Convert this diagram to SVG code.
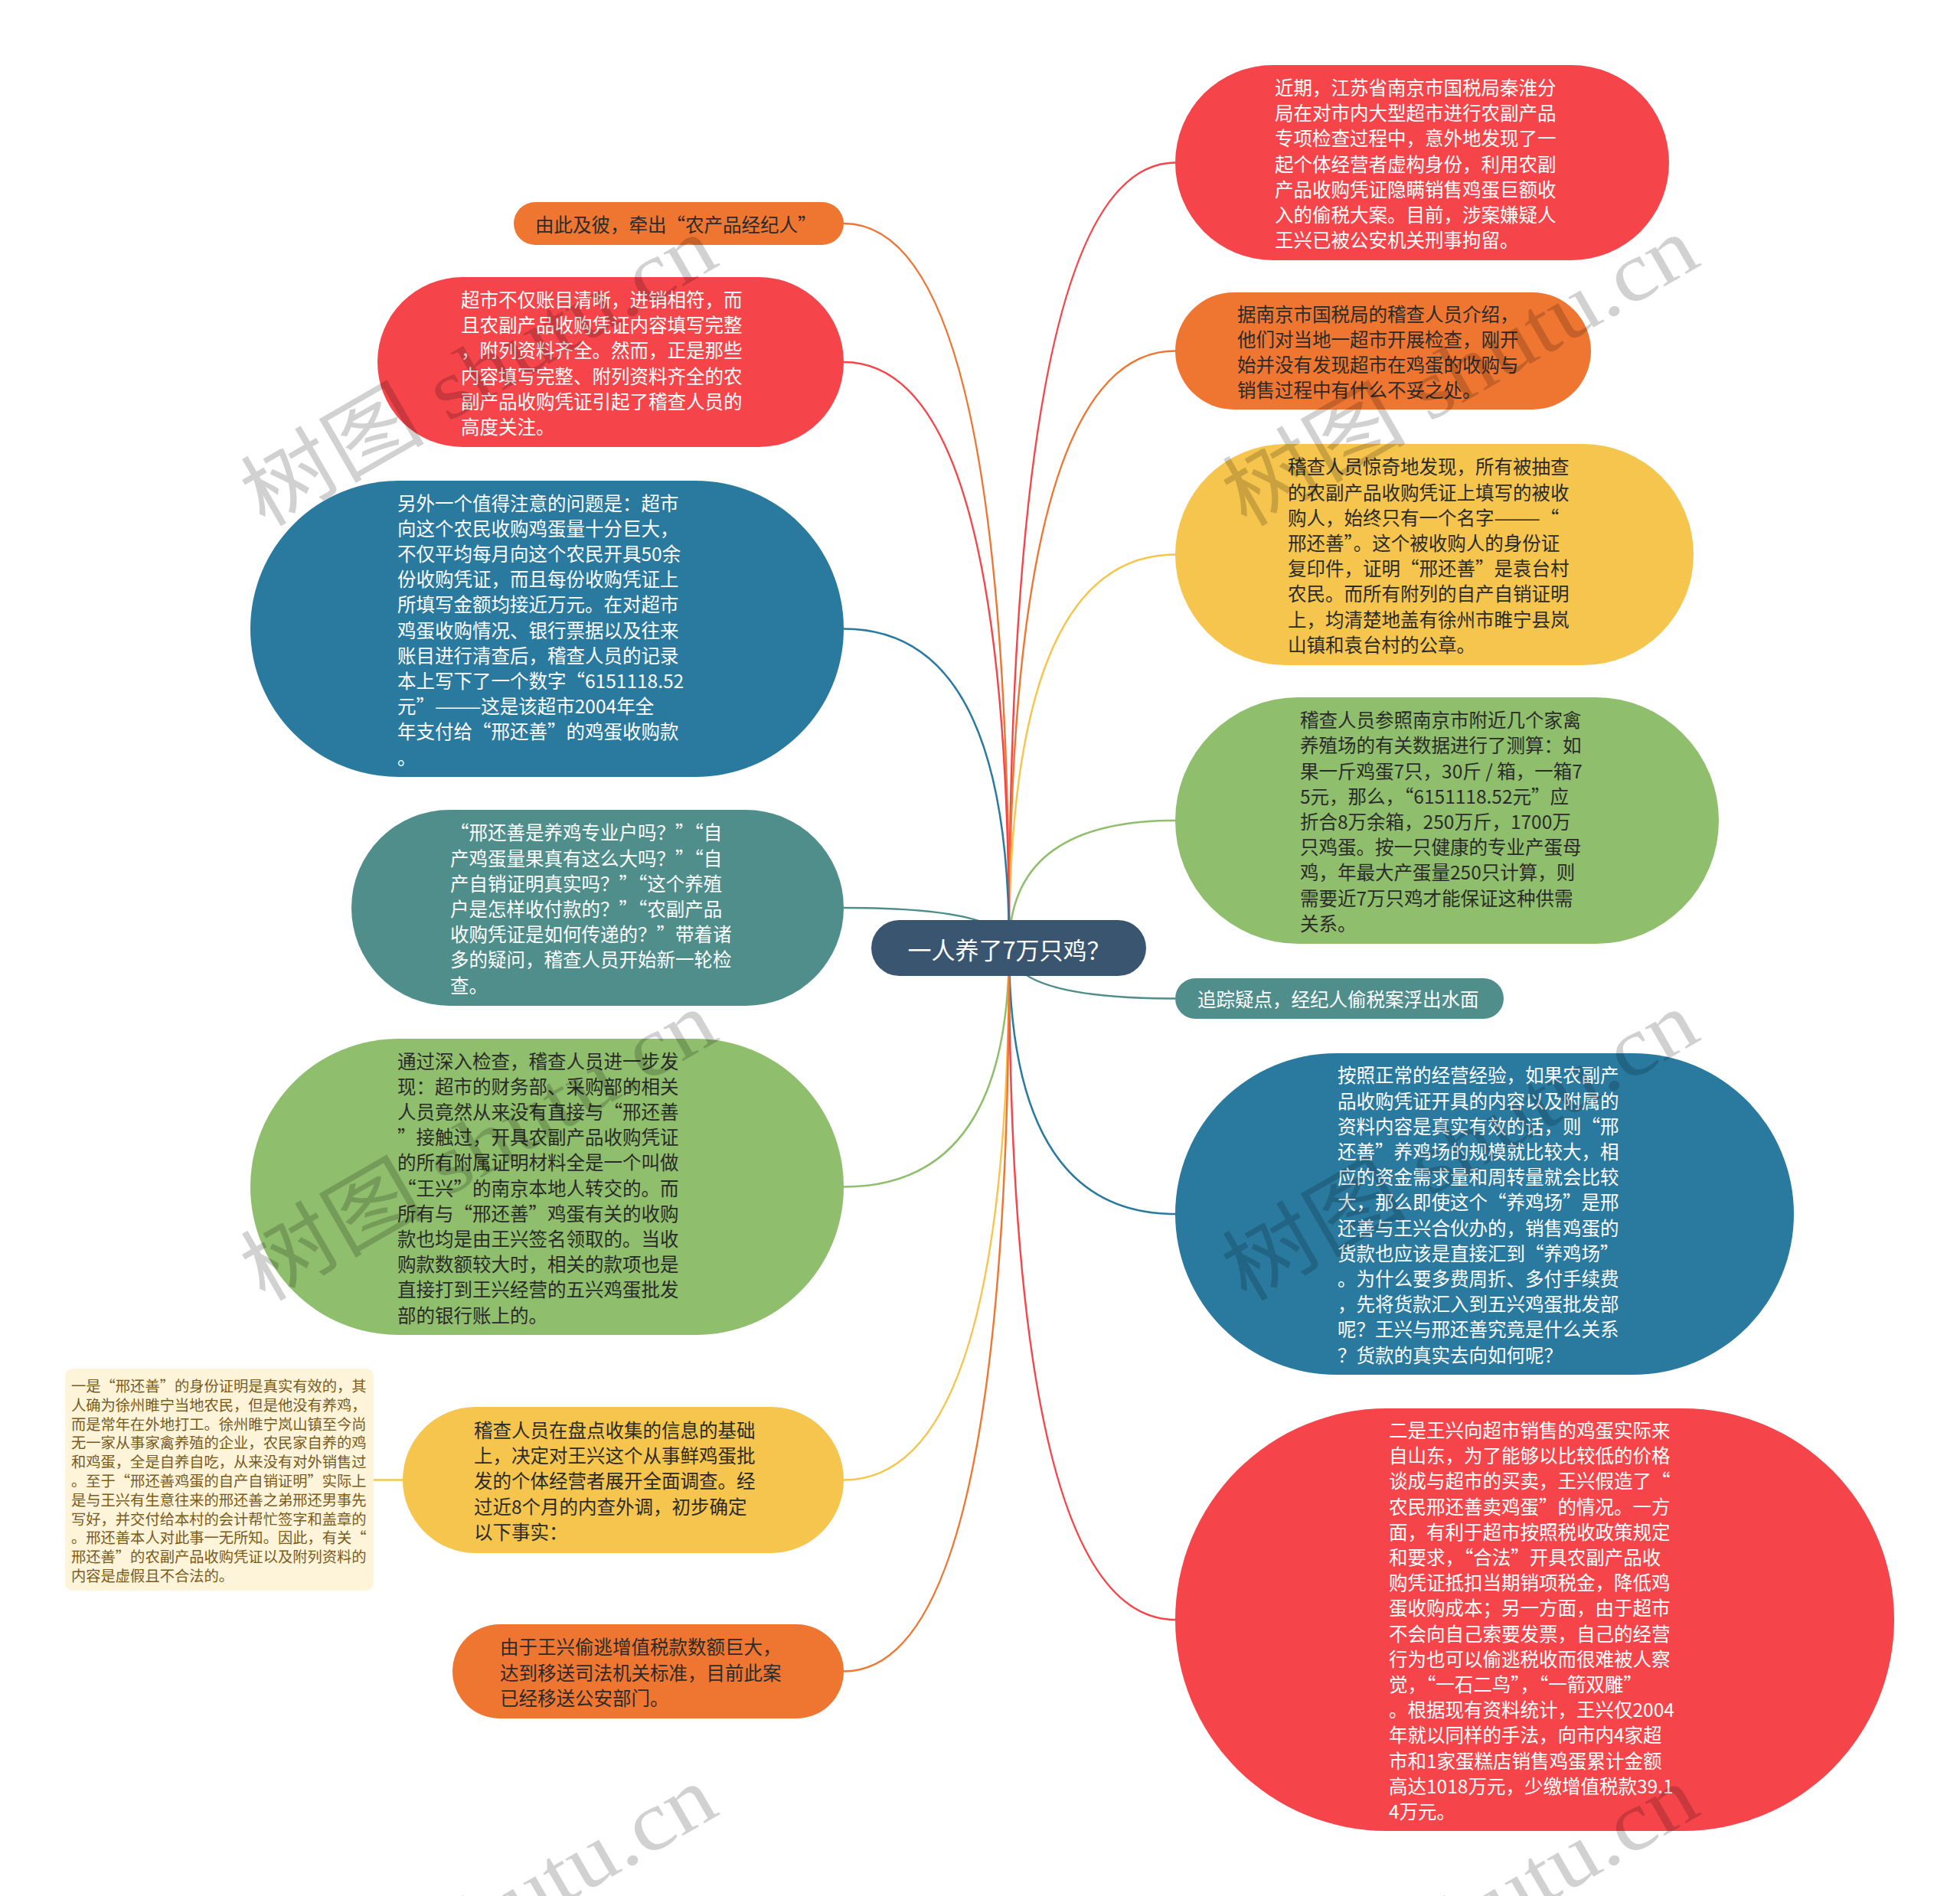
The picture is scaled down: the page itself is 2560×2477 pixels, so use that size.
<svg xmlns="http://www.w3.org/2000/svg" width="2560" height="2477" viewBox="0 0 2560 2477">
<style>
.t{font-family:"Noto Sans CJK SC","Noto Sans",sans-serif;font-size:24.5px;dominant-baseline:central}
.w{fill:#ffffff}
.d{fill:#2b2b2b}
.n{font-family:"Noto Sans CJK SC","Noto Sans",sans-serif;font-size:19.3px;dominant-baseline:central;fill:#7a5b1c}
.c{fill:none;stroke-width:2.5}
.wm{font-family:"Liberation Serif","Noto Sans CJK SC",serif;font-size:110px;fill:#000;fill-opacity:0.18}
</style>
<rect x="0" y="0" width="2560" height="2477" fill="#ffffff"/>
<g id="connectors">
<path class="c" stroke="#f5454b" d="M1318,1238 Q1318,212.5 1535,212.5"/>
<path class="c" stroke="#ef7631" d="M1318,1238 Q1318,458.5 1535,458.5"/>
<path class="c" stroke="#f6c54e" d="M1318,1238 Q1318,724.5 1535,724.5"/>
<path class="c" stroke="#8fbe6c" d="M1318,1238 Q1318,1072 1535,1072"/>
<path class="c" stroke="#4f8e8b" d="M1318,1238 Q1318,1304.5 1535,1304.5"/>
<path class="c" stroke="#2a7aa0" d="M1318,1238 Q1318,1586 1535,1586"/>
<path class="c" stroke="#f5454b" d="M1318,1238 Q1318,2116 1535,2116"/>
<path class="c" stroke="#ef7631" d="M1318,1238 Q1318,292 1102,292"/>
<path class="c" stroke="#f5454b" d="M1318,1238 Q1318,473 1102,473"/>
<path class="c" stroke="#2a7aa0" d="M1318,1238 Q1318,821.5 1102,821.5"/>
<path class="c" stroke="#4f8e8b" d="M1318,1238 Q1318,1186 1102,1186"/>
<path class="c" stroke="#8fbe6c" d="M1318,1238 Q1318,1550.5 1102,1550.5"/>
<path class="c" stroke="#f6c54e" d="M1318,1238 Q1318,1933.5 1102,1933.5"/>
<path class="c" stroke="#ef7631" d="M1318,1238 Q1318,2183.5 1102,2183.5"/>
<path class="c" stroke="#f6c54e" d="M526,1933.5 L488,1933.5"/>
</g>
<g id="root">
<rect x="1138" y="1202" width="359" height="73" rx="36.5" fill="#3a5570"/>
<text class="t w" x="1318" y="1239" text-anchor="middle" style="font-size:31px">一人养了7万只鸡？</text>
</g>
<g id="r1">
<rect x="1535" y="85" width="645" height="255" rx="127.5" fill="#f5454b"/>
<text class="t w"><tspan x="1665" y="112.9">近期，江苏省南京市国税局秦淮分</tspan><tspan x="1665" y="146.1">局在对市内大型超市进行农副产品</tspan><tspan x="1665" y="179.3">专项检查过程中，意外地发现了一</tspan><tspan x="1665" y="212.5">起个体经营者虚构身份，利用农副</tspan><tspan x="1665" y="245.7">产品收购凭证隐瞒销售鸡蛋巨额收</tspan><tspan x="1665" y="278.9">入的偷税大案。目前，涉案嫌疑人</tspan><tspan x="1665" y="312.1">王兴已被公安机关刑事拘留。</tspan></text>
</g>
<g id="r2">
<rect x="1535" y="382" width="543" height="153" rx="76.5" fill="#ef7631"/>
<text class="t d"><tspan x="1616" y="408.7">据南京市国税局的稽查人员介绍，</tspan><tspan x="1616" y="441.9">他们对当地一超市开展检查，刚开</tspan><tspan x="1616" y="475.1">始并没有发现超市在鸡蛋的收购与</tspan><tspan x="1616" y="508.3">销售过程中有什么不妥之处。</tspan></text>
</g>
<g id="r3">
<rect x="1535" y="580" width="677" height="289" rx="144.5" fill="#f6c54e"/>
<text class="t d"><tspan x="1682" y="608.3">稽查人员惊奇地发现，所有被抽查</tspan><tspan x="1682" y="641.5">的农副产品收购凭证上填写的被收</tspan><tspan x="1682" y="674.7">购人，始终只有一个名字———“</tspan><tspan x="1682" y="707.9">邢还善”。这个被收购人的身份证</tspan><tspan x="1682" y="741.1">复印件，证明“邢还善”是袁台村</tspan><tspan x="1682" y="774.3">农民。而所有附列的自产自销证明</tspan><tspan x="1682" y="807.5">上，均清楚地盖有徐州市睢宁县岚</tspan><tspan x="1682" y="840.7">山镇和袁台村的公章。</tspan></text>
</g>
<g id="r4">
<rect x="1535" y="911" width="710" height="322" rx="161" fill="#8fbe6c"/>
<text class="t d"><tspan x="1698" y="939.2">稽查人员参照南京市附近几个家禽</tspan><tspan x="1698" y="972.4">养殖场的有关数据进行了测算：如</tspan><tspan x="1698" y="1005.6">果一斤鸡蛋7只，30斤 / 箱，一箱7</tspan><tspan x="1698" y="1038.8">5元，那么，“6151118.52元”应</tspan><tspan x="1698" y="1072">折合8万余箱，250万斤，1700万</tspan><tspan x="1698" y="1105.2">只鸡蛋。按一只健康的专业产蛋母</tspan><tspan x="1698" y="1138.4">鸡，年最大产蛋量250只计算，则</tspan><tspan x="1698" y="1171.6">需要近7万只鸡才能保证这种供需</tspan><tspan x="1698" y="1204.8">关系。</tspan></text>
</g>
<g id="r5">
<rect x="1535" y="1278" width="429" height="53" rx="26.5" fill="#4f8e8b"/>
<text class="t w" x="1564" y="1304.5">追踪疑点，经纪人偷税案浮出水面</text>
</g>
<g id="r6">
<rect x="1535" y="1376" width="808" height="420" rx="210" fill="#2a7aa0"/>
<text class="t w"><tspan x="1747" y="1403.4">按照正常的经营经验，如果农副产</tspan><tspan x="1747" y="1436.6">品收购凭证开具的内容以及附属的</tspan><tspan x="1747" y="1469.8">资料内容是真实有效的话，则“邢</tspan><tspan x="1747" y="1503">还善”养鸡场的规模就比较大，相</tspan><tspan x="1747" y="1536.2">应的资金需求量和周转量就会比较</tspan><tspan x="1747" y="1569.4">大，那么即使这个“养鸡场”是邢</tspan><tspan x="1747" y="1602.6">还善与王兴合伙办的，销售鸡蛋的</tspan><tspan x="1747" y="1635.8">货款也应该是直接汇到“养鸡场”</tspan><tspan x="1747" y="1669">。为什么要多费周折、多付手续费</tspan><tspan x="1747" y="1702.2">，先将货款汇入到五兴鸡蛋批发部</tspan><tspan x="1747" y="1735.4">呢？王兴与邢还善究竟是什么关系</tspan><tspan x="1747" y="1768.6">？货款的真实去向如何呢？</tspan></text>
</g>
<g id="r7">
<rect x="1535" y="1840" width="939" height="552" rx="276" fill="#f5454b"/>
<text class="t w"><tspan x="1814" y="1867">二是王兴向超市销售的鸡蛋实际来</tspan><tspan x="1814" y="1900.2">自山东，为了能够以比较低的价格</tspan><tspan x="1814" y="1933.4">谈成与超市的买卖，王兴假造了“</tspan><tspan x="1814" y="1966.6">农民邢还善卖鸡蛋”的情况。一方</tspan><tspan x="1814" y="1999.8">面，有利于超市按照税收政策规定</tspan><tspan x="1814" y="2033">和要求，“合法”开具农副产品收</tspan><tspan x="1814" y="2066.2">购凭证抵扣当期销项税金，降低鸡</tspan><tspan x="1814" y="2099.4">蛋收购成本；另一方面，由于超市</tspan><tspan x="1814" y="2132.6">不会向自己索要发票，自己的经营</tspan><tspan x="1814" y="2165.8">行为也可以偷逃税收而很难被人察</tspan><tspan x="1814" y="2199">觉，“一石二鸟”，“一箭双雕”</tspan><tspan x="1814" y="2232.2">。根据现有资料统计，王兴仅2004</tspan><tspan x="1814" y="2265.4">年就以同样的手法，向市内4家超</tspan><tspan x="1814" y="2298.6">市和1家蛋糕店销售鸡蛋累计金额</tspan><tspan x="1814" y="2331.8">高达1018万元，少缴增值税款39.1</tspan><tspan x="1814" y="2365">4万元。</tspan></text>
</g>
<g id="l1">
<rect x="671" y="264" width="431" height="56" rx="28" fill="#ef7631"/>
<text class="t d" x="699" y="292">由此及彼，牵出“农产品经纪人”</text>
</g>
<g id="l2">
<rect x="493" y="362" width="609" height="222" rx="111" fill="#f5454b"/>
<text class="t w"><tspan x="602" y="390">超市不仅账目清晰，进销相符，而</tspan><tspan x="602" y="423.2">且农副产品收购凭证内容填写完整</tspan><tspan x="602" y="456.4">，附列资料齐全。然而，正是那些</tspan><tspan x="602" y="489.6">内容填写完整、附列资料齐全的农</tspan><tspan x="602" y="522.8">副产品收购凭证引起了稽查人员的</tspan><tspan x="602" y="556">高度关注。</tspan></text>
</g>
<g id="l3">
<rect x="327" y="628" width="775" height="387" rx="193.5" fill="#2a7aa0"/>
<text class="t w"><tspan x="519" y="655.5">另外一个值得注意的问题是：超市</tspan><tspan x="519" y="688.7">向这个农民收购鸡蛋量十分巨大，</tspan><tspan x="519" y="721.9">不仅平均每月向这个农民开具50余</tspan><tspan x="519" y="755.1">份收购凭证，而且每份收购凭证上</tspan><tspan x="519" y="788.3">所填写金额均接近万元。在对超市</tspan><tspan x="519" y="821.5">鸡蛋收购情况、银行票据以及往来</tspan><tspan x="519" y="854.7">账目进行清查后，稽查人员的记录</tspan><tspan x="519" y="887.9">本上写下了一个数字“6151118.52</tspan><tspan x="519" y="921.1">元”———这是该超市2004年全</tspan><tspan x="519" y="954.3">年支付给“邢还善”的鸡蛋收购款</tspan><tspan x="519" y="987.5">。</tspan></text>
</g>
<g id="l4">
<rect x="459" y="1058" width="643" height="256" rx="128" fill="#4f8e8b"/>
<text class="t w"><tspan x="588" y="1086.4"> “邢还善是养鸡专业户吗？”“自</tspan><tspan x="588" y="1119.6">产鸡蛋量果真有这么大吗？”“自</tspan><tspan x="588" y="1152.8">产自销证明真实吗？”“这个养殖</tspan><tspan x="588" y="1186">户是怎样收付款的？”“农副产品</tspan><tspan x="588" y="1219.2">收购凭证是如何传递的？”带着诸</tspan><tspan x="588" y="1252.4">多的疑问，稽查人员开始新一轮检</tspan><tspan x="588" y="1285.6">查。</tspan></text>
</g>
<g id="l5">
<rect x="327" y="1357" width="775" height="387" rx="193.5" fill="#8fbe6c"/>
<text class="t d"><tspan x="519" y="1384.5">通过深入检查，稽查人员进一步发</tspan><tspan x="519" y="1417.7">现：超市的财务部、采购部的相关</tspan><tspan x="519" y="1450.9">人员竟然从来没有直接与“邢还善</tspan><tspan x="519" y="1484.1">”接触过，开具农副产品收购凭证</tspan><tspan x="519" y="1517.3">的所有附属证明材料全是一个叫做</tspan><tspan x="519" y="1550.5">“王兴”的南京本地人转交的。而</tspan><tspan x="519" y="1583.7">所有与“邢还善”鸡蛋有关的收购</tspan><tspan x="519" y="1616.9">款也均是由王兴签名领取的。当收</tspan><tspan x="519" y="1650.1">购款数额较大时，相关的款项也是</tspan><tspan x="519" y="1683.3">直接打到王兴经营的五兴鸡蛋批发</tspan><tspan x="519" y="1716.5">部的银行账上的。</tspan></text>
</g>
<g id="l6">
<rect x="526" y="1838" width="576" height="191" rx="95.5" fill="#f6c54e"/>
<text class="t d"><tspan x="619" y="1867">稽查人员在盘点收集的信息的基础</tspan><tspan x="619" y="1900.2">上，决定对王兴这个从事鲜鸡蛋批</tspan><tspan x="619" y="1933.4">发的个体经营者展开全面调查。经</tspan><tspan x="619" y="1966.6">过近8个月的内查外调，初步确定</tspan><tspan x="619" y="1999.8">以下事实：</tspan></text>
</g>
<g id="l7">
<rect x="591" y="2122" width="511" height="123" rx="61.5" fill="#ef7631"/>
<text class="t d"><tspan x="653" y="2150.3">由于王兴偷逃增值税款数额巨大，</tspan><tspan x="653" y="2183.5">达到移送司法机关标准，目前此案</tspan><tspan x="653" y="2216.7">已经移送公安部门。</tspan></text>
</g>
<g id="note">
<rect x="85" y="1788" width="403" height="290" rx="10" fill="#fdf4da"/>
<text class="n"><tspan x="93" y="1810">一是“邢还善”的身份证明是真实有效的，其</tspan><tspan x="93" y="1834.8">人确为徐州睢宁当地农民，但是他没有养鸡，</tspan><tspan x="93" y="1859.6">而是常年在外地打工。徐州睢宁岚山镇至今尚</tspan><tspan x="93" y="1884.4">无一家从事家禽养殖的企业，农民家自养的鸡</tspan><tspan x="93" y="1909.2">和鸡蛋，全是自养自吃，从来没有对外销售过</tspan><tspan x="93" y="1934">。至于“邢还善鸡蛋的自产自销证明”实际上</tspan><tspan x="93" y="1958.8">是与王兴有生意往来的邢还善之弟邢还男事先</tspan><tspan x="93" y="1983.6">写好，并交付给本村的会计帮忙签字和盖章的</tspan><tspan x="93" y="2008.4">。邢还善本人对此事一无所知。因此，有关“</tspan><tspan x="93" y="2033.2">邢还善”的农副产品收购凭证以及附列资料的</tspan><tspan x="93" y="2058">内容是虚假且不合法的。</tspan></text>
</g>
<g id="watermark">
<text class="wm" x="345" y="690" transform="rotate(-30 345 690)" textLength="690" lengthAdjust="spacingAndGlyphs">树图 shutu.cn</text>
<text class="wm" x="1627" y="690" transform="rotate(-30 1627 690)" textLength="690" lengthAdjust="spacingAndGlyphs">树图 shutu.cn</text>
<text class="wm" x="345" y="1702" transform="rotate(-30 345 1702)" textLength="690" lengthAdjust="spacingAndGlyphs">树图 shutu.cn</text>
<text class="wm" x="1627" y="1702" transform="rotate(-30 1627 1702)" textLength="690" lengthAdjust="spacingAndGlyphs">树图 shutu.cn</text>
<text class="wm" x="345" y="2714" transform="rotate(-30 345 2714)" textLength="690" lengthAdjust="spacingAndGlyphs">树图 shutu.cn</text>
<text class="wm" x="1627" y="2714" transform="rotate(-30 1627 2714)" textLength="690" lengthAdjust="spacingAndGlyphs">树图 shutu.cn</text>
</g>
</svg>
